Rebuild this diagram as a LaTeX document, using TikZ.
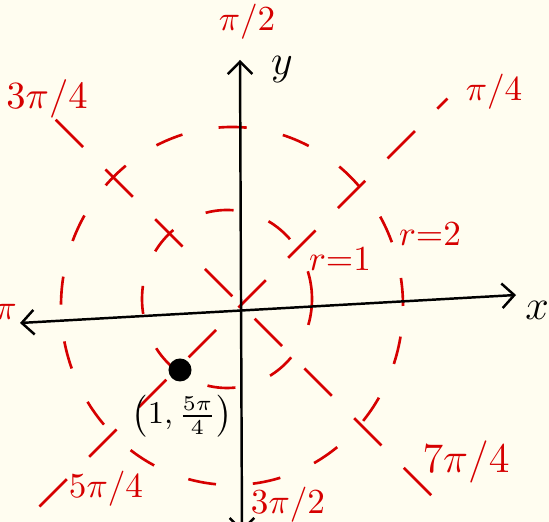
\documentclass[tikz,border=0pt]{standalone}
\usetikzlibrary{arrows.meta}
\definecolor{paper}{RGB}{255,253,240}
\definecolor{pen}{RGB}{214,0,0}
\begin{document}
\begin{tikzpicture}[x = .01cm, y = .01cm,
    polar/.style = {pen, line width = .75pt, dash pattern = on 8pt off 10.5pt},
    ray/.style = {pen, line width = .75pt, dash pattern = on 11pt off 9pt},
    axis/.style = {line width = .7pt,
      {Straight Barb[length = 3.5pt, width = 7pt]}-{Straight Barb[length = 3.5pt, width = 7pt]}},
    lab/.style = {pen, font = \fontsize{10}{12}\selectfont, inner sep = 1pt}]
  \useasboundingbox [fill = paper] (0,0) rectangle (549,522);
  \coordinate (O) at (241,217);
  % circles r = 1 and r = 2 (hand drawn, a little off round)
  \draw [polar] (227,223) ellipse (85 and 89);
  \draw [polar] (232,216) ellipse (171 and 179);
  % rays through the origin
  \begin{scope}[shift = {(O)}]
    \draw [ray] (225:285) -- (45:292);
    \draw [ray] (135:262) -- (315:290);
  \end{scope}
  % axes
  \coordinate (xl) at (20,199);
  \coordinate (xr) at (516,227);
  \coordinate (yb) at (242,-10);
  \coordinate (yt) at (240,462);
  \draw [axis] (xl) -- (xr);
  \draw [axis] (yb) -- (yt);
  \node [font = \fontsize{12}{14}\selectfont] (xlab) at (537,212) {$x$};
  \node [font = \fontsize{12}{14}\selectfont] (ylab) at (282,452) {$y$};
  % angle labels
  \node [lab] (a90)  at (247,500) {$\pi/2$};
  \node [lab] (a45)  at (494,430) {$\pi/4$};
  \node [lab, font = \fontsize{11}{13}\selectfont] (a135) at (47,423) {$3\pi/4$};
  \node [lab] (a180) at (6,210)   {$\pi$};
  \node [lab] (a225) at (106,33)  {$5\pi/4$};
  \node [lab] (a270) at (288,17)  {$3\pi/2$};
  \node [lab, font = \fontsize{12}{14}\selectfont] (a315) at (466,60) {$7\pi/4$};
  % radius labels
  \node [lab] (r1) at (340,263) {$r{=}1$};
  \node [lab] (r2) at (430,288) {$r{=}2$};
  % the point
  \node [circle, fill = black, inner sep = 0pt, minimum size = .23cm] (P) at (180,152) {};
  \node [font = \fontsize{9}{11}\selectfont, inner sep = 0pt] (Plab) at (182,106) {$\left(1{,}\,\frac{5\pi}{4}\right)$};
\end{tikzpicture}
\end{document}
